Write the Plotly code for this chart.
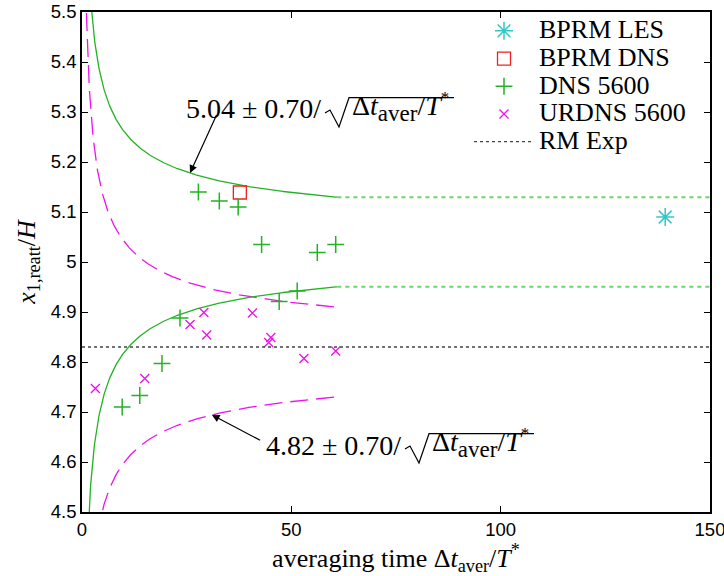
import numpy as np
import plotly.graph_objects as go

# ---- data -------------------------------------------------------------
dns_t = [9.6, 13.8, 19.1, 23.4, 27.8, 32.8, 37.3, 42.9, 47.1, 51.4, 56.2, 60.6]
dns_x = [4.710, 4.733, 4.797, 4.888, 5.140, 5.122, 5.110, 5.035, 4.921, 4.942, 5.019, 5.035]

urdns_t = [3.2, 15.0, 25.8, 29.1, 29.8, 40.7, 44.6, 45.1, 53.0, 60.6]
urdns_x = [4.747, 4.767, 4.875, 4.899, 4.854, 4.898, 4.839, 4.849, 4.807, 4.822]

bprm_dns_t = [37.7]
bprm_dns_x = [5.139]
bprm_les_t = [139.3]
bprm_les_x = [5.090]

rm_exp = 4.83

# confidence envelopes  mean +- coef / sqrt(t)
dns_mean, urdns_mean, coef = 5.04, 4.82, 0.70
t_end = 61.0
t_max = 150.0

x_ticks = [0, 50, 100, 150]
y_ticks = [4.5, 4.6, 4.7, 4.8, 4.9, 5.0, 5.1, 5.2, 5.3, 5.4, 5.5]
y_ticktext = ["4.5", "4.6", "4.7", "4.8", "4.9", "5", "5.1", "5.2", "5.3", "5.4", "5.5"]

# ---- styles -----------------------------------------------------------
GREEN = "#22b322"
GREEN_LIGHT = "#6fd06f"
MAGENTA = "#ee11ee"
CYAN = "#33c8c8"
RED = "#ee2222"
SERIF = "Liberation Serif"
SANS = "Liberation Sans"

W, H = 724, 576
M_L, M_R, M_T, M_B = 82, 14, 12, 64
PW, PH = W - M_L - M_R, H - M_T - M_B


def px(x_pix):
    """page pixel column -> paper x"""
    return (x_pix - M_L) / PW


def py(y_pix):
    """page pixel row -> paper y"""
    return (H - M_B - y_pix) / PH


t_curve = np.linspace(0.5, t_end, 600)
env = coef / np.sqrt(t_curve)

fig = go.Figure()

# DNS envelope (solid) with dotted continuation, URDNS envelope (dashed)
for sign in (1, -1):
    fig.add_trace(go.Scatter(x=t_curve, y=dns_mean + sign * env, mode="lines",
                             line=dict(color=GREEN, width=1.3), showlegend=False,
                             hoverinfo="skip"))
    y_last = dns_mean + sign * coef / np.sqrt(t_end)
    fig.add_trace(go.Scatter(x=[t_end, t_max], y=[y_last, y_last], mode="lines",
                             line=dict(color=GREEN_LIGHT, width=2, dash="4px,4px"),
                             showlegend=False, hoverinfo="skip"))
    fig.add_trace(go.Scatter(x=t_curve, y=urdns_mean + sign * env, mode="lines",
                             line=dict(color=MAGENTA, width=1.3, dash="18px,8px"),
                             showlegend=False, hoverinfo="skip"))

LEG = "<span style='font-size:26px'>%s</span>"

fig.add_trace(go.Scatter(x=bprm_les_t, y=bprm_les_x, mode="markers", name=LEG % "BPRM LES",
                         marker=dict(symbol="asterisk-open", size=15, color=CYAN,
                                     line=dict(color=CYAN, width=1.5))))
fig.add_trace(go.Scatter(x=bprm_dns_t, y=bprm_dns_x, mode="markers", name=LEG % "BPRM DNS",
                         marker=dict(symbol="square-open", size=13, color=RED,
                                     line=dict(color=RED, width=1.3))))
fig.add_trace(go.Scatter(x=dns_t, y=dns_x, mode="markers", name=LEG % "DNS 5600",
                         marker=dict(symbol="cross-thin-open", size=12, color=GREEN,
                                     line=dict(color=GREEN, width=1.5))))
fig.add_trace(go.Scatter(x=urdns_t, y=urdns_x, mode="markers", name=LEG % "URDNS 5600",
                         marker=dict(symbol="x-thin-open", size=9, color=MAGENTA,
                                     line=dict(color=MAGENTA, width=1.3))))
fig.add_trace(go.Scatter(x=[0, t_max], y=[rm_exp, rm_exp], mode="lines", name=LEG % "RM Exp",
                         line=dict(color="#444444", width=1.3, dash="3px,3px")))

# ---- formula labels: "m ± 0.70/sqrt(Δt_aver/T*)" -----------------------
LABEL_FONT = dict(family=SERIF, size=28, color="black")
radicand = ("Δ<i>t</i><sub><span style='font-size:23px'>aver</span></sub>/<i>T</i>"
            "<sup><span style='font-size:17px'>*</span></sup>")

annotations = [
    # arrows pointing at the envelopes
    dict(x=25.8, y=dns_mean + coef / np.sqrt(25.8), ax=32.3, ay=5.297,
         xref="x", yref="y", axref="x", ayref="y", text="", showarrow=True,
         arrowhead=2, arrowsize=1.3, arrowwidth=1.2, arrowcolor="black"),
    dict(x=31.0, y=urdns_mean - coef / np.sqrt(31.0), ax=42.9, ay=4.642,
         xref="x", yref="y", axref="x", ayref="y", text="", showarrow=True,
         arrowhead=2, arrowsize=1.3, arrowwidth=1.2, arrowcolor="black"),
]
shapes = []

for mean, dx, dy in ((dns_mean, 0, 0), (urdns_mean, 80, 336)):
    annotations.append(dict(x=px(323 + dx), y=py(109 + dy), xref="paper", yref="paper",
                            xanchor="right", yanchor="middle", showarrow=False,
                            text="%.2f ± %.2f/" % (mean, coef), font=LABEL_FONT))
    annotations.append(dict(x=px(350 + dx), y=py(107 + dy), xref="paper", yref="paper",
                            xanchor="left", yanchor="middle", showarrow=False,
                            text=radicand, font=LABEL_FONT))
    pts = [(325, 113), (330, 110), (339, 127), (349, 97.7), (454, 97.7)]
    path = "M" + " L".join("%.5f,%.5f" % (px(a + dx), py(b + dy)) for a, b in pts)
    shapes.append(dict(type="path", path=path, xref="paper", yref="paper",
                       line=dict(color="black", width=1.2)))

axis_common = dict(showline=True, linecolor="black", linewidth=1.5, mirror="ticks",
                   ticks="inside", ticklen=6, tickwidth=1, tickcolor="black",
                   showgrid=False, zeroline=False, ticklabeloverflow="allow",
                   automargin=False,
                   tickfont=dict(family=SANS, size=18.5, color="black"))

fig.update_layout(
    width=W, height=H,
    margin=dict(l=M_L, r=M_R, t=M_T, b=M_B, autoexpand=False),
    paper_bgcolor="white", plot_bgcolor="white",
    showlegend=True,
    legend=dict(x=px(469), y=py(12), xanchor="left", yanchor="top",
                font=dict(family=SERIF, size=19, color="black"),
                bgcolor="rgba(0,0,0,0)", itemwidth=60, tracegroupgap=0),
    xaxis=dict(range=[0, t_max], tickvals=x_ticks,
               title=dict(text="averaging time Δ<i>t</i><sub>aver</sub>/<i>T</i><sup>*</sup>",
                          font=dict(family=SERIF, size=26, color="black"), standoff=2),
               **axis_common),
    yaxis=dict(range=[4.5, 5.5], tickvals=y_ticks, ticktext=y_ticktext,
               title=dict(text="<i>x</i><sub>1,reatt</sub>/<i>H</i>",
                          font=dict(family=SERIF, size=26, color="black"), standoff=8),
               **axis_common),
    annotations=annotations,
    shapes=shapes,
)

fig.write_html("out.html")
